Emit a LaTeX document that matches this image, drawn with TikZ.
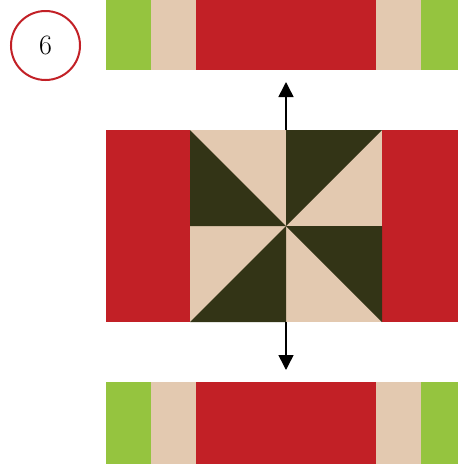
\documentclass[tikz,border=0pt]{standalone}
\usetikzlibrary{arrows.meta}
\definecolor{leaf}{HTML}{95C43F}
\definecolor{sand}{HTML}{E3C9B0}
\definecolor{berry}{HTML}{C22026}
\definecolor{moss}{HTML}{333416}
\begin{document}
\begin{tikzpicture}[x=1pt,y=-1pt]
\useasboundingbox (0,0) rectangle (458,464);
\node[draw=berry, line width=2pt, circle, minimum size=69pt, inner sep=0pt, font=\fontsize{28}{30}\selectfont] (stepno) at (45.5,45.5) {6};
% top and bottom strips
\foreach \top/\bot in {0/70, 382/464} {
  \fill[leaf] (106,\top) rectangle (151,\bot);
  \fill[sand] (151,\top) rectangle (196,\bot);
  \fill[berry] (196,\top) rectangle (376,\bot);
  \fill[sand] (376,\top) rectangle (421,\bot);
  \fill[leaf] (421,\top) rectangle (458,\bot);
}
% middle block with pinwheel
\fill[berry] (106,130) rectangle (458,322);
\fill[sand] (190,130) rectangle (382,322);
\coordinate (hub) at (286,226);
\fill[moss] (190,130) -- (190,226) -- (hub) -- cycle;
\fill[moss] (286,130) -- (382,130) -- (hub) -- cycle;
\fill[moss] (hub) -- (382,226) -- (382,322) -- cycle;
\fill[moss] (hub) -- (286,322) -- (190,322) -- cycle;
% arrows
\coordinate (blocktop) at (286,130);
\coordinate (blockbot) at (286,322);
\coordinate (uptip) at (286,82);
\coordinate (downtip) at (286,370);
\draw[line width=1.5pt, -{Triangle[length=15pt,width=15pt]}] (blocktop) -- (uptip);
\draw[line width=1.5pt, -{Triangle[length=15pt,width=15pt]}] (blockbot) -- (downtip);
\end{tikzpicture}
\end{document}
